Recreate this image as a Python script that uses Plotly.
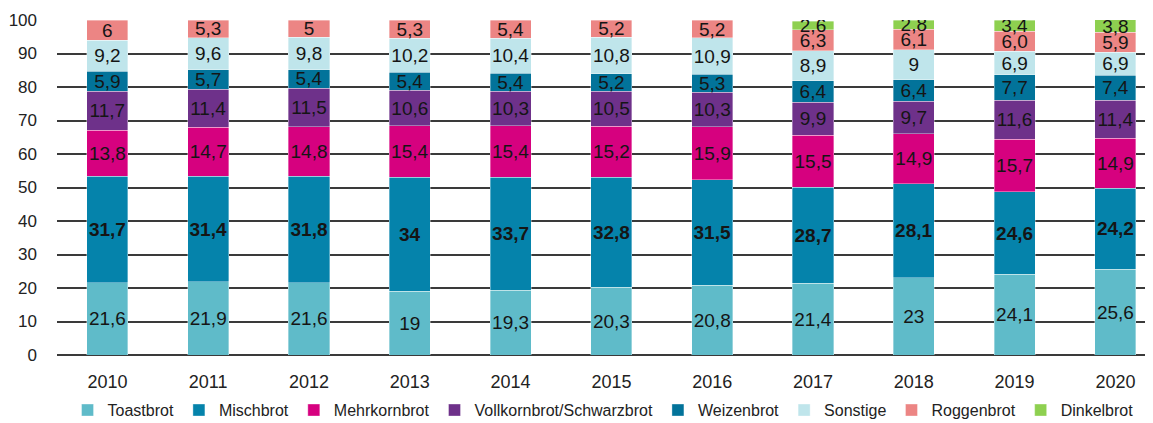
import plotly.graph_objects as go

years = ["2010", "2011", "2012", "2013", "2014", "2015", "2016", "2017", "2018", "2019", "2020"]
toastbrot = [21.6, 21.9, 21.6, 19, 19.3, 20.3, 20.8, 21.4, 23, 24.1, 25.6]
mischbrot = [31.7, 31.4, 31.8, 34, 33.7, 32.8, 31.5, 28.7, 28.1, 24.6, 24.2]
mehrkornbrot = [13.8, 14.7, 14.8, 15.4, 15.4, 15.2, 15.9, 15.5, 14.9, 15.7, 14.9]
vollkornbrot = [11.7, 11.4, 11.5, 10.6, 10.3, 10.5, 10.3, 9.9, 9.7, 11.6, 11.4]
weizenbrot = [5.9, 5.7, 5.4, 5.4, 5.4, 5.2, 5.3, 6.4, 6.4, 7.7, 7.4]
sonstige = [9.2, 9.6, 9.8, 10.2, 10.4, 10.8, 10.9, 8.9, 9, 6.9, 6.9]
roggenbrot = [6, 5.3, 5, 5.3, 5.4, 5.2, 5.2, 6.3, 6.1, 6.0, 5.9]
dinkelbrot = [None, None, None, None, None, None, None, 2.6, 2.8, 3.4, 3.8]

series = [
    ("Toastbrot", toastbrot, "#5FBBC9", False),
    ("Mischbrot", mischbrot, "#0583AB", True),
    ("Mehrkornbrot", mehrkornbrot, "#D6017F", False),
    ("Vollkornbrot/Schwarzbrot", vollkornbrot, "#6E318A", False),
    ("Weizenbrot", weizenbrot, "#02739A", False),
    ("Sonstige", sonstige, "#BFE5EB", False),
    ("Roggenbrot", roggenbrot, "#EC8584", False),
    ("Dinkelbrot", dinkelbrot, "#8ED050", False),
]

FONT = "Liberation Sans, Arial, sans-serif"


def fmt(v):
    if v is None:
        return ""
    return str(v).replace(".", ",")


fig = go.Figure()
for name, vals, color, bold in series:
    texts = [("<b>%s</b>" % fmt(v) if bold and v is not None else fmt(v)) for v in vals]
    fig.add_trace(go.Bar(
        name=name,
        x=years,
        y=vals,
        text=texts,
        textposition="inside",
        insidetextanchor="middle",
        constraintext="none",
        textangle=0,
        textfont=dict(family=FONT, size=19, color="#151515"),
        marker=dict(color=color, line=dict(color="rgba(255,255,255,0.6)", width=0.6)),
        hoverinfo="skip",
    ))

# the page body has an 8px margin, so the figure is drawn at (8, 8)
fig.update_layout(
    barmode="stack",
    bargap=0.593,
    width=1145,
    height=415,
    margin=dict(l=49, r=0, t=11.5, b=68, autoexpand=False),
    paper_bgcolor="white",
    plot_bgcolor="white",
    font=dict(family=FONT, size=18, color="#222222"),
    showlegend=True,
    legend=dict(
        orientation="h",
        xref="container", yref="container",
        x=0.052, xanchor="left",
        y=0.031, yanchor="middle",
        font=dict(family=FONT, size=16, color="#222222"),
        traceorder="normal",
        itemwidth=30,
        tracegroupgap=0,
        bgcolor="rgba(0,0,0,0)",
    ),
    xaxis=dict(
        type="category",
        range=[-0.5, 10.373],
        showgrid=False,
        showline=False,
        ticks="",
        automargin=False,
        ticklabelstandoff=14,
        tickfont=dict(family=FONT, size=18, color="#222222"),
        fixedrange=True,
    ),
    yaxis=dict(
        range=[0, 100],
        tickvals=[0, 10, 20, 30, 40, 50, 60, 70, 80, 90, 100],
        showgrid=True,
        gridcolor="#3a3a3a",
        gridwidth=1.5,
        zeroline=True,
        zerolinecolor="#3a3a3a",
        zerolinewidth=1.5,
        showline=False,
        ticks="",
        automargin=False,
        ticklabelstandoff=19,
        tickfont=dict(family=FONT, size=17, color="#222222"),
        fixedrange=True,
    ),
)

fig.write_html("out.html")
